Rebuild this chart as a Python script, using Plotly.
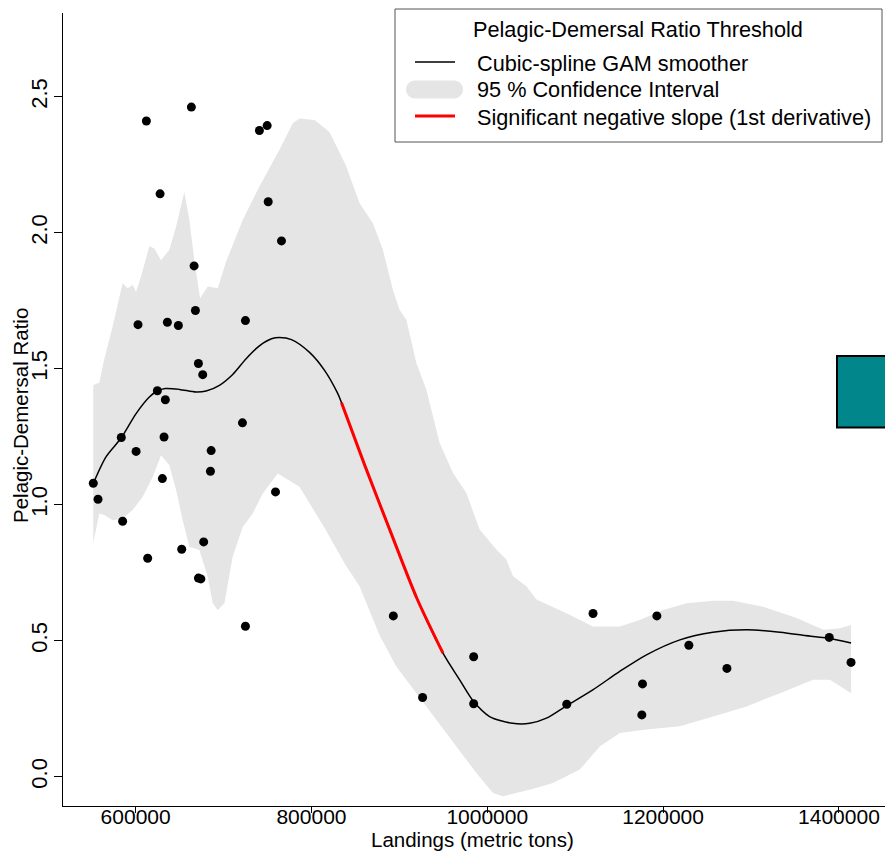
import plotly.graph_objects as go

# ---- observations: total landings vs pelagic/demersal ratio ----
landings = [612200, 663400, 740800, 749600, 627800, 750800, 765900, 666500,
            668000, 602700, 636100, 648600, 724900, 671400, 676300, 624700,
            633800, 721500, 583700, 632300, 600500, 685900, 685100, 630400,
            551800, 557200, 759100, 585200, 677400, 652400, 613700, 671400,
            674200, 724900, 893100, 926400, 984500, 984500, 1090400, 1120300,
            1176600, 1175800, 1192900, 1229300, 1272600, 1389000, 1413800]
ratio = [2.411, 2.462, 2.376, 2.394, 2.143, 2.114, 1.970, 1.878,
         1.714, 1.662, 1.671, 1.659, 1.677, 1.519, 1.478, 1.419,
         1.386, 1.301, 1.247, 1.249, 1.196, 1.199, 1.123, 1.096,
         1.079, 1.020, 1.047, 0.939, 0.863, 0.836, 0.803, 0.730,
         0.727, 0.553, 0.591, 0.291, 0.441, 0.268, 0.266, 0.600,
         0.341, 0.227, 0.591, 0.483, 0.398, 0.512, 0.420]

# ---- GAM smoother ----
fit_x = [551800, 566300, 583700, 600500, 615600, 624700, 633800, 649800,
         668800, 680200, 695300, 710400, 725700, 740800, 754500, 763600,
         777300, 797800, 814900, 829700, 834200, 860000, 890000, 920000,
         949600, 968600, 984500, 1002600, 1028900, 1048300, 1067300,
         1090400, 1120000, 1150700, 1181100, 1219100, 1256600, 1295000,
         1332900, 1370500, 1388700, 1413800]
fit_y = [1.078, 1.176, 1.246, 1.335, 1.396, 1.418, 1.427, 1.424,
         1.414, 1.418, 1.439, 1.479, 1.537, 1.584, 1.610, 1.615,
         1.607, 1.560, 1.494, 1.410, 1.375, 1.150, 0.900, 0.655,
         0.454, 0.356, 0.276, 0.221, 0.196, 0.196, 0.215,
         0.261, 0.319, 0.387, 0.448, 0.503, 0.531, 0.540,
         0.531, 0.515, 0.509, 0.491]

# range where the first derivative is significantly negative
sig_start = 834200
sig_end = 949600

# ---- 95 % confidence band ----
ci_upper_x = [551800, 558700, 563200, 573800, 585200, 590900, 596600, 600500,
              606100, 615600, 621300, 628900, 638400, 646000, 655400, 661100,
              666800, 673300, 682000, 693400, 702900, 721800, 740800, 763600,
              778800, 786400, 803500, 820500, 838800, 854700, 869800, 881200,
              892600, 900200, 907900, 919300, 930700, 945800, 960900, 976200,
              991300, 1010400, 1021700, 1029300, 1044500, 1055900, 1090100,
              1120300, 1150700, 1173500, 1200000, 1226700, 1257000, 1279700,
              1313900, 1351900, 1382200, 1401200, 1413800]
ci_upper_y = [1.440, 1.448, 1.520, 1.655, 1.814, 1.796, 1.808, 1.783,
              1.839, 1.950, 1.942, 1.899, 1.937, 2.022, 2.151, 2.047,
              1.899, 1.759, 1.802, 1.796, 1.894, 2.047, 2.170, 2.305,
              2.403, 2.420, 2.415, 2.370, 2.250, 2.109, 2.035, 1.938,
              1.790, 1.717, 1.680, 1.521, 1.423, 1.227, 1.117, 1.043,
              0.909, 0.835, 0.798, 0.737, 0.700, 0.651, 0.601,
              0.552, 0.552, 0.576, 0.613, 0.638, 0.647, 0.647,
              0.625, 0.583, 0.540, 0.546, 0.558]
ci_lower_x = [551800, 558700, 564400, 573800, 585200, 596600, 608000, 619400,
              628900, 638400, 646000, 653500, 661100, 672500, 682000, 687700,
              693400, 701000, 710400, 721800, 733200, 744600, 761700, 771200,
              786400, 814900, 838800, 854700, 877500, 896500, 923000, 945800,
              964800, 987600, 1006500, 1017900, 1048300, 1074800, 1105200,
              1128000, 1150700, 1181100, 1219100, 1257000, 1295000, 1332900,
              1370800, 1389800, 1413800]
ci_lower_y = [0.860, 0.968, 0.962, 0.943, 0.949, 0.980, 1.029, 1.102,
              1.182, 1.145, 1.054, 0.943, 0.845, 0.833, 0.735, 0.638,
              0.613, 0.638, 0.809, 0.918, 0.968, 1.041, 1.115, 1.097,
              1.066, 0.914, 0.778, 0.700, 0.520, 0.405, 0.295, 0.196,
              0.111, 0.013, -0.060, -0.072, -0.048, -0.023, 0.026,
              0.111, 0.160, 0.173, 0.185, 0.221, 0.258, 0.307,
              0.356, 0.356, 0.307]

# ---- axis ticks ----
x_ticks = [600000, 800000, 1000000, 1200000, 1400000]
x_ticklabels = ["600000", "800000", "1000000", "1200000", "1400000"]
y_ticks = [0.0, 0.5, 1.0, 1.5, 2.0, 2.5]
y_ticklabels = ["0.0", "0.5", "1.0", "1.5", "2.0", "2.5"]

x_title = "Landings (metric tons)"
y_title = "Pelagic-Demersal Ratio"
legend_title = "Pelagic-Demersal Ratio Threshold"
legend_labels = ["Cubic-spline GAM smoother", "95 % Confidence Interval",
                 "Significant negative slope (1st derivative)"]

BAND = "#E5E5E5"
FONT = "Liberation Sans, Arial, sans-serif"

W, H = 885, 852
M_L, M_R, M_T, M_B = 63, 0, 13, 46
PW, PH = W - M_L - M_R, H - M_T - M_B
X_RANGE = [517370, 1452410]
Y_RANGE = [-0.108, 2.808]


def paper(px, py):
    """Pixel position on the page -> paper coordinates."""
    return (px - M_L) / PW, (H - M_B - py) / PH


fig = go.Figure()

# confidence band as a closed polygon
fig.add_trace(go.Scatter(
    x=ci_upper_x + ci_lower_x[::-1],
    y=ci_upper_y + ci_lower_y[::-1],
    fill="toself", fillcolor=BAND, mode="lines",
    line=dict(width=0, color=BAND), hoverinfo="skip", showlegend=False))

# smoother
fig.add_trace(go.Scatter(
    x=fit_x, y=fit_y, mode="lines",
    line=dict(color="black", width=1.5, shape="spline", smoothing=0.8),
    showlegend=False))

# significant negative slope section
sig_idx = [i for i, v in enumerate(fit_x) if sig_start <= v <= sig_end]
fig.add_trace(go.Scatter(
    x=[fit_x[i] for i in sig_idx], y=[fit_y[i] for i in sig_idx],
    mode="lines",
    line=dict(color="#FF0000", width=3, shape="spline", smoothing=0.8),
    showlegend=False))

# observations
fig.add_trace(go.Scatter(
    x=landings, y=ratio, mode="markers",
    marker=dict(color="black", size=9, line=dict(width=0)),
    showlegend=False))

shapes = []
annotations = []

# axis titles
tx, ty = paper(472, 839)
annotations.append(dict(text=x_title, xref="paper", yref="paper", x=tx, y=ty,
                        xanchor="center", yanchor="middle", showarrow=False,
                        font=dict(size=20.5, color="black", family=FONT)))
tx, ty = paper(20, 416)
annotations.append(dict(text=y_title, xref="paper", yref="paper", x=tx, y=ty,
                        xanchor="center", yanchor="middle", showarrow=False,
                        textangle=-90,
                        font=dict(size=20.5, color="black", family=FONT)))

# legend box
x0, y0 = paper(395, 142)
x1, y1 = paper(882, 9)
shapes.append(dict(type="rect", xref="paper", yref="paper",
                   x0=x0, y0=y0, x1=x1, y1=y1,
                   line=dict(color="#555555", width=1), fillcolor="white",
                   layer="above"))

tx, ty = paper(638, 29)
annotations.append(dict(text=legend_title, xref="paper", yref="paper",
                        x=tx, y=ty, xanchor="center", yanchor="middle",
                        showarrow=False, font=dict(size=21.7, color="black", family=FONT)))

row_y = [63, 90, 117]
for lbl, ry in zip(legend_labels, row_y):
    lx, ly = paper(475, ry)
    annotations.append(dict(text=lbl, xref="paper", yref="paper",
                            x=lx, y=ly, xanchor="left", yanchor="middle",
                            showarrow=False,
                            font=dict(size=21.7, color="black", family=FONT)))

# legend keys
ax0, ay = paper(415, 62)
ax1, _ = paper(455, 62)
shapes.append(dict(type="line", xref="paper", yref="paper",
                   x0=ax0, x1=ax1, y0=ay, y1=ay,
                   line=dict(color="black", width=1.5)))
ax0, ay = paper(415, 116)
ax1, _ = paper(455, 116)
shapes.append(dict(type="line", xref="paper", yref="paper",
                   x0=ax0, x1=ax1, y0=ay, y1=ay,
                   line=dict(color="#FF0000", width=3)))

# rounded band key
lft, rgt, top, bot = 406, 463, 80.5, 98.5
r = (bot - top) / 2
mid = (top + bot) / 2
k = 0.5523 * r
pts = [("M", [(lft + r, top)]),
       ("L", [(rgt - r, top)]),
       ("C", [(rgt - r + k, top), (rgt, mid - k), (rgt, mid)]),
       ("C", [(rgt, mid + k), (rgt - r + k, bot), (rgt - r, bot)]),
       ("L", [(lft + r, bot)]),
       ("C", [(lft + r - k, bot), (lft, mid + k), (lft, mid)]),
       ("C", [(lft, mid - k), (lft + r - k, top), (lft + r, top)])]
path = ""
for cmd, plist in pts:
    coords = " ".join("%.5f,%.5f" % paper(px, py) for px, py in plist)
    path += cmd + coords + " "
path += "Z"
shapes.append(dict(type="path", xref="paper", yref="paper", path=path,
                   fillcolor=BAND, line=dict(width=0)))

# teal swatch at the right edge
sx0, sy0 = paper(837, 427.5)
sx1, sy1 = paper(900, 356)
shapes.append(dict(type="rect", xref="paper", yref="paper",
                   x0=sx0, y0=sy0, x1=sx1, y1=sy1,
                   fillcolor="#00868B", line=dict(color="black", width=2)))

fig.update_layout(
    width=W, height=H,
    margin=dict(l=M_L, r=M_R, t=M_T, b=M_B, pad=0),
    paper_bgcolor="white", plot_bgcolor="white",
    font=dict(family=FONT, color="black", size=22),
    shapes=shapes, annotations=annotations,
    showlegend=False,
    xaxis=dict(range=X_RANGE, tickvals=x_ticks, ticktext=x_ticklabels,
               showline=True, linecolor="black", linewidth=1, mirror=False,
               ticks="outside", ticklen=6, tickwidth=1, tickcolor="black",
               showgrid=False, zeroline=False,
               tickfont=dict(size=21), ticklabelstandoff=-14,
               automargin=False),
    yaxis=dict(range=Y_RANGE, tickvals=y_ticks, ticktext=y_ticklabels,
               showline=True, linecolor="black", linewidth=1, mirror=False,
               ticks="outside", ticklen=8, tickwidth=1, tickcolor="black",
               showgrid=False, zeroline=False, tickangle=-90,
               tickfont=dict(size=22), ticklabelstandoff=-2,
               automargin=False),
)

fig.write_html("out.html")
